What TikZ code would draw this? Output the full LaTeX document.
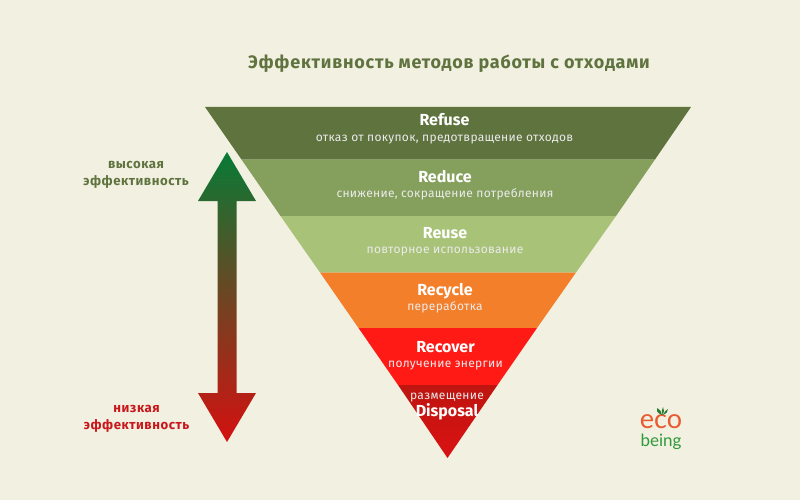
\documentclass[tikz,border=0pt]{standalone}
\usepackage{fontspec}
\setmainfont{Fira Sans}
\newfontfamily\logofont{Lato}
\usetikzlibrary{positioning}
\definecolor{bg_paper}{HTML}{F2F0E1}
\definecolor{olive_dark}{HTML}{5F733F}
\definecolor{olive_mid}{HTML}{84A05C}
\definecolor{olive_light}{HTML}{A8C277}
\definecolor{band_orange}{HTML}{F47F2A}
\definecolor{band_red}{HTML}{FF1A16}
\definecolor{band_dark_top}{HTML}{BE1510}
\definecolor{band_dark_bottom}{HTML}{DA1212}
\definecolor{label_red}{HTML}{C8161A}
\definecolor{logo_green}{HTML}{2E9A3A}
\definecolor{logo_orange}{HTML}{E85A30}
\definecolor{arrow_top}{HTML}{087A35}
\definecolor{arrow_mid}{HTML}{744C1A}
\definecolor{arrow_bottom}{HTML}{D41010}
\tikzset{
        treelabel/.style={align=center,inner sep=0pt},
        % Method names in the bands
        node_name/.style={treelabel, white, text height=11pt, text depth=3pt, font=\fontsize{16}{18}\selectfont\bfseries},
        % Russian line under the name
        node_sub/.style={treelabel, white!92!black, text height=9pt, text depth=3pt, font=\fontsize{12}{15}\selectfont\addfontfeature{LetterSpace=2.5}},
        % Text left of the arrow
        node_side/.style={treelabel, font=\fontsize{13.2}{17}\selectfont\bfseries\addfontfeature{LetterSpace=4}},
        % Logo words
        node_logo/.style={treelabel}
}
\begin{document}
\begin{tikzpicture}[x=1pt,y=-1pt]
    \fill[bg_paper] (0,0) rectangle (800,500);
    \useasboundingbox (0,0) rectangle (800,500);
    % bands
    \fill[olive_dark] (205,107) -- (691,107) -- (655,159.5) -- (241.5,159.5) -- cycle;
    \fill[olive_mid] (241.5,159.5) -- (655,159.5) -- (616,216) -- (280.5,216) -- cycle;
    \fill[olive_light] (280.5,216) -- (616,216) -- (576,272.5) -- (320,272.5) -- cycle;
    \fill[band_orange] (320,272.5) -- (576,272.5) -- (537,328) -- (358.5,328) -- cycle;
    \fill[band_red] (358.5,328) -- (537,328) -- (497.5,385) -- (398,385) -- cycle;
    \shade[top color=band_dark_top, bottom color=band_dark_bottom] (398,385) -- (497.5,385) -- (447.5,458) -- cycle;
    % arrow
    \shade[top color=arrow_top, middle color=arrow_mid, bottom color=arrow_bottom]
        (227,152) -- (256,201) -- (236.5,201) -- (236.5,393) -- (256,393) -- (227,442)
        -- (198,393) -- (217.5,393) -- (217.5,201) -- (198,201) -- cycle;
    % title
    \node[treelabel, olive_dark, font=\fontsize{18}{20}\selectfont\bfseries\addfontfeature{LetterSpace=4.2}] (title) at (449,63.5) {Эффективность методов работы с отходами};
    % band labels
    \node[node_name] (refuse) at (444.5,122) {Refuse};
    \node[node_sub, below=3pt of refuse] (refuse_sub) {отказ от покупок, предотвращение отходов};
    \node[node_name] (reduce) at (445,178) {Reduce};
    \node[node_sub, below=3pt of reduce] (reduce_sub) {снижение, сокращение потребления};
    \node[node_name] (reuse) at (445,234) {Reuse};
    \node[node_sub, below=3pt of reuse] (reuse_sub) {повторное использование};
    \node[node_name] (recycle) at (445,291) {Recycle};
    \node[node_sub, below=3pt of recycle] (recycle_sub) {переработка};
    \node[node_name] (recover) at (445.5,348) {Recover};
    \node[node_sub, below=3pt of recover] (recover_sub) {получение энергии};
    \node[node_sub] (disposal_sub) at (447,396) {размещение};
    \node[node_name, below=3pt of disposal_sub] (disposal) {Disposal};
    % side labels
    \node[node_side, olive_dark] (high_eff) at (136,175) {высокая\\эффективность};
    \node[node_side, label_red] (low_eff) at (136.5,419) {низкая\\эффективность};
    % logo
    \node[node_logo, logo_orange, font=\logofont\fontsize{27}{30}\selectfont] (logo_eco) at (661,422) {eco};
    \node[node_logo, logo_green, font=\logofont\fontsize{17}{20}\selectfont] (logo_being) at (661,441.5) {being};
    \fill[logo_green!80!black] (662,415) .. controls (657,413) and (656,410) .. (657,408) .. controls (660,410) and (662,412) .. cycle;
    \fill[logo_green!80!black] (662.5,415) .. controls (661,412) and (662,409) .. (663,407) .. controls (664,409) and (664.5,412) .. cycle;
    \fill[logo_green!80!black] (663,415) .. controls (664,412) and (666,410) .. (668,409) .. controls (668,412) and (666,414) .. cycle;
\end{tikzpicture}
\end{document}
